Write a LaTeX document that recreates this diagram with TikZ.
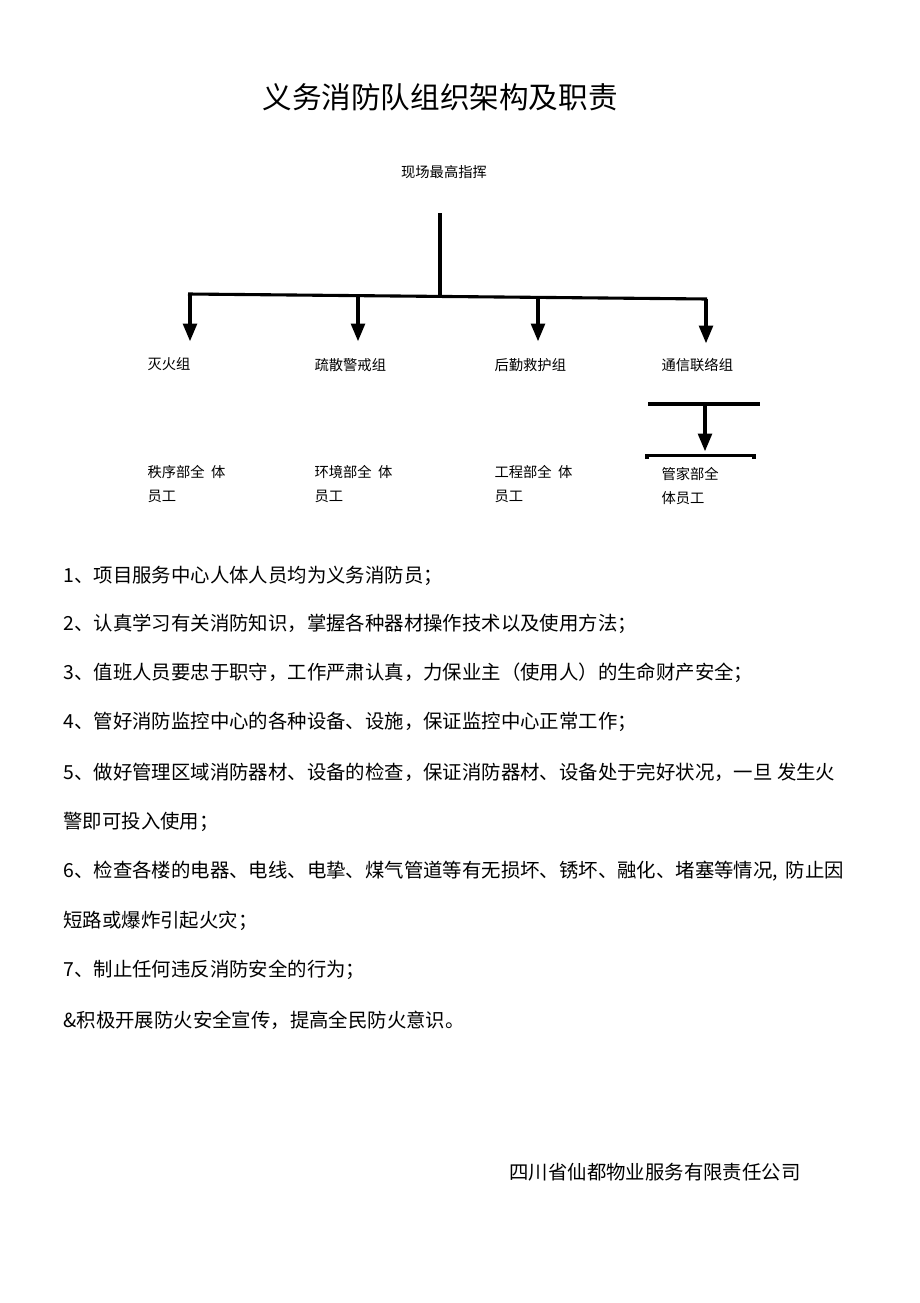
\documentclass[tikz,border=0pt]{standalone}
\usepackage{fontspec}
\setmainfont{Noto Sans CJK SC}
\usetikzlibrary{arrows, positioning}
\tikzset{
  grp/.style={inner sep=0pt, anchor=west, align=left, font=\fontsize{14.3}{24}\selectfont},
  item/.style={inner sep=0pt, anchor=west, font=\fontsize{19.4}{24}\selectfont},
}

\begin{document}
\begin{tikzpicture}[x=1pt, y=-1pt, >=triangle 45, line width=3.1pt]
\path[fill=white] (0,0) rectangle (920,1303);
\useasboundingbox (0,0) rectangle (920,1303);
\node[inner sep=0pt, font=\fontsize{29.6}{30}\selectfont] (title) at (440,97) {义务消防队组织架构及职责};
\node[grp, anchor=center] (top) at (444,172) {现场最高指挥};
% trunk and bar
\coordinate (t0) at (440,213);
\coordinate (t1) at (440,296.5);
\coordinate (b0) at (188,294);
\coordinate (b5) at (707,299);
\coordinate (b1) at (190,294);
\coordinate (b2) at (358,295.6);
\coordinate (b3) at (538,297.4);
\coordinate (b4) at (706,299);
\coordinate (a1) at (190,341);
\coordinate (a2) at (358,341);
\coordinate (a3) at (538,341);
\coordinate (a4) at (706,343);
\draw (t0) -- (t1);
\draw (b0) -- (b5);
\draw [->] (b1) -- (a1);
\draw [->] (b2) -- (a2);
\draw [->] (b3) -- (a3);
\draw [->] (b4) -- (a4);
% groups
\node[grp] (g1) at (146,364) {灭火组};
\node[grp] (g2) at (313,365) {疏散警戒组};
\node[grp] (g3) at (493,365) {后勤救护组};
\node[grp] (g4) at (660,365) {通信联络组};
% sub bars
\coordinate (s1) at (648,404);
\coordinate (s2) at (760,404);
\coordinate (s3) at (705,404);
\coordinate (s4) at (705,451);
\coordinate (s5) at (647,459);
\coordinate (s6) at (647,455.5);
\coordinate (s7) at (754,455.5);
\coordinate (s8) at (754,459);
\draw (s1) -- (s2);
\draw [->] (s3) -- (s4);
\draw (s5) -- (s6) -- (s7) -- (s8);
% departments
\node[grp] (d1) at (146,484) {秩序部全\hspace{0.45em}体\\员工};
\node[grp] (d2) at (313,484) {环境部全\hspace{0.45em}体\\员工};
\node[grp] (d3) at (493,484) {工程部全\hspace{0.45em}体\\员工};
\node[grp] (d4) at (660,486) {管家部全\\体员工};
% duties
\node[item] (l1) at (62,576) {1、项目服务中心人体人员均为义务消防员；};
\node[item] (l2) at (62,624) {2、认真学习有关消防知识，掌握各种器材操作技术以及使用方法；};
\node[item] (l3) at (62,673) {3、值班人员要忠于职守，工作严肃认真，力保业主（使用人）的生命财产安全；};
\node[item] (l4) at (62,722) {4、管好消防监控中心的各种设备、设施，保证监控中心正常工作；};
\node[item] (l5) at (62,772) {5、做好管理区域消防器材、设备的检查，保证消防器材、设备处于完好状况，一旦 发生火};
\node[item] (l5b) at (62,822) {警即可投入使用；};
\node[item] (l6) at (62,871) {6、检查各楼的电器、电线、电挚、煤气管道等有无损坏、锈坏、融化、堵塞等情况,\hspace{0.4em}防止因};
\node[item] (l6b) at (62,921) {短路或爆炸引起火灾；};
\node[item] (l7) at (62,970) {7、制止任何违反消防安全的行为；};
\node[item] (l8) at (62,1020) {\&积极开展防火安全宣传，提高全民防火意识。};
\node[item] (co) at (508,1172) {四川省仙都物业服务有限责任公司};
\end{tikzpicture}
\end{document}
